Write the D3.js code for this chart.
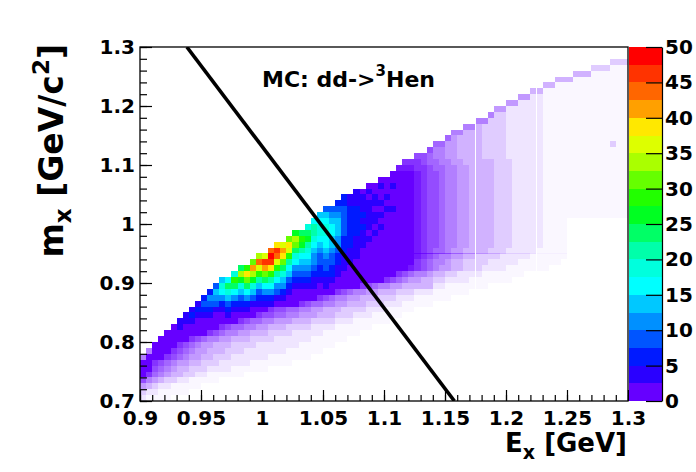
<!DOCTYPE html>
<html><head><meta charset="utf-8">
<script src="https://cdn.jsdelivr.net/npm/d3@7"></script>
<style>body{margin:0;background:#fff}svg{display:block}text{font-family:"DejaVu Sans",sans-serif;font-weight:bold;fill:#000}</style>
</head><body>
<svg id="chart" width="696" height="472"></svg>
<script>
// ---- data ----
const eRange = [0.9, 1.3];          // E_x axis range [GeV]
const mRange = [0.7, 1.3];          // m_x axis range [GeV/c^2]
const zRange = [0, 50];             // colour axis range (counts)
const binE = 0.005, binM = 0.01;    // cell size of the grid below
const xTicks = [0.9, 0.95, 1, 1.05, 1.1, 1.15, 1.2, 1.25, 1.3];
const xTickLabels = ["0.9", "0.95", "1", "1.05", "1.1", "1.15", "1.2", "1.25", "1.3"];
const yTicks = [0.7, 0.8, 0.9, 1, 1.1, 1.2, 1.3];
const yTickLabels = ["0.7", "0.8", "0.9", "1", "1.1", "1.2", "1.3"];
const zTicks = [0, 5, 10, 15, 20, 25, 30, 35, 40, 45, 50];
const zTickLabels = ["0", "5", "10", "15", "20", "25", "30", "35", "40", "45", "50"];
const cutE = [0.9384, 1.1577];      // black cut line, E_x end points
const cutM = [1.3, 0.7];            // black cut line, m_x end points
const titleMain = "MC: dd->", titleSup = "3", titleEnd = "Hen";
const paletteColors = ["#6600ff","#2a00ff","#001aff","#0055ff","#0090ff","#00c8ff","#00ffff","#00ffdd","#00ffaa","#00ff66",
                       "#00ff22","#22ff00","#66ff00","#aaff00","#ddff00","#ffe800","#ffa000","#ff6600","#ff3300","#ff0000"];
// histogram content, one row per m_x bin (top = 1.30), run-length coded: <code><count>
// '.' empty, '0' ~3% filled, '1'..'9' 10..90% filled, 'a'..'t' = content band 0..19 (width 2.5 counts)
const histRows = [
".80", ".80", ".77 23", ".74 23 03", ".71 33 06", ".68 33 09", ".66 32 012", ".64 32 014",
".62 42 12 014", ".60 42 14 014", ".58 42 16 014", ".57 51 22 16 014", ".55 52 23 16 014",
".53 52 31 24 16 014", ".51 52 33 24 16 014", ".50 61 41 34 24 16 014", ".48 62 42 34 24 16 011 21 02",
".47 71 52 42 34 24 16 014", ".45 72 61 52 42 34 24 16 014",
".43 83 71 62 52 42 35 23 15 014",
".42 93 82 71 62 52 42 34 23 15 014",
".41 a4 91 81 72 61 52 42 34 23 15 014",
".39 a6 91 81 72 61 52 42 34 23 15 014",
".37 a2 b1 a1 b1 a3 91 81 72 61 52 42 34 23 15 014",
".35 b1 a1 b1 a7 91 81 72 61 52 42 34 23 15 014",
".33 c1 b3 a1 b1 a1 b1 a4 91 81 72 61 52 42 34 23 15 014",
".32 c2 b6 a5 91 81 72 61 52 42 34 23 15 014",
".30 d4 c2 b2 a2 b2 a3 91 81 72 61 52 42 34 23 15 014",
".29 f2 e2 d1 c3 b3 a5 91 81 72 61 52 42 34 23 15 014",
".28 g3 f2 d1 c2 b3 a6 91 81 72 61 52 42 34 23 15 04 .10",
".27 h1 i1 h2 g1 f1 d1 c3 b1 a1 b1 a5 91 81 72 61 52 42 34 23 15 04 .10",
".25 k1 j2 i1 h2 g1 f1 d1 c2 b1 a1 b1 a6 91 81 72 61 52 42 34 23 15 04 .10",
".24 m1 n1 l1 k1 h1 g2 f1 e1 c2 b3 a7 91 81 72 61 52 42 34 23 15 04 .10",
".22 p1 o1 p1 m1 k1 i1 g1 f1 g1 f1 e1 c2 b2 a8 91 81 72 61 52 42 34 23 15 04 .10",
".21 r1 s1 q1 o1 j1 i1 h1 f1 e1 f1 e1 d1 c1 b2 a9 91 81 71 62 51 42 34 23 15 05 .10",
".19 n1 o1 t1 r1 p1 l1 h1 g2 e1 d1 e1 d1 c1 b3 a9 91 81 71 61 52 42 32 24 15 06 .10",
".18 m1 r1 s2 o1 m1 i1 g1 f2 e1 d3 c1 b2 a10 81 71 61 52 41 32 24 15 07 .11",
".16 j1 l1 q1 o1 q1 p1 l1 j1 g1 e3 d1 c1 d1 c1 b2 a10 91 81 71 61 51 42 32 23 14 07 .13",
".15 h1 n1 p1 n1 l1 m1 l1 i1 h1 f1 d3 c4 b1 a9 81 71 61 52 41 32 22 14 07 .17",
".13 f1 g1 l1 k1 m1 k1 i1 j1 i1 g1 f1 d1 c3 b4 a8 81 71 61 51 42 32 22 14 07 .19",
".12 d1 h1 j2 h1 j1 h1 f1 g2 e2 c1 b4 a1 b1 a5 81 71 61 52 42 32 33 12 07 .23",
".11 c1 f1 g1 h1 g1 f1 g1 f1 d1 e2 d1 c1 b1 a7 81 71 61 52 42 33 23 13 06 .26",
".10 c1 e3 f1 e1 d1 e1 d1 c3 b2 a5 81 71 61 52 42 33 23 13 06 .29",
".9 b1 d3 c1 d1 c3 b4 a4 81 71 62 52 42 33 23 13 05 .32",
".8 b1 c3 b2 c1 b3 a3 81 72 62 52 42 33 24 13 05 .35",
".7 b1 c1 b3 a2 b1 a4 81 72 62 52 43 33 23 13 05 .37",
".6 b3 a7 81 71 62 52 43 33 24 13 06 .39",
".5 a1 b1 a6 81 71 62 52 42 33 24 14 06 .42",
".4 a7 81 71 61 52 42 33 24 15 06 .44",
".3 a5 81 71 61 52 42 33 24 16 06 .46",
".2 a4 81 71 61 51 42 33 24 17 06 .48",
".1 51 a3 81 71 61 51 42 33 23 17 06 .50",
"51 a3 81 71 61 51 42 32 23 16 07 .52",
"a2 81 71 61 51 42 32 23 15 07 .55",
"a2 71 61 51 41 32 23 14 06 .59",
"a1 81 61 51 41 32 22 12 06 .63",
"71 51 41 31 22 12 05 .67",
"41 31 21 12 05 .70",
"21 12 05 .72",
"11 04 .75"
];

// ---- decode grid ----
function decode(ch) {
  if (ch === ".") return 0;
  if (ch === "0") return 0.03;
  if (ch >= "1" && ch <= "9") return (+ch) / 10;
  return 1.25 + 2.5 * (ch.charCodeAt(0) - 97);
}
const cells = [];
histRows.forEach((row, r) => {
  let c = 0;
  row.split(" ").forEach(tok => {
    const ch = tok[0], n = +tok.slice(1);
    const v = decode(ch);
    for (let k = 0; k < n; k++, c++) {
      if (v > 0 && c < 80) cells.push({ e: eRange[0] + c * binE, m: mRange[1] - (r + 1) * binM, v });
    }
  });
});

// ---- chart ----
const svg = d3.select("#chart");
svg.append("rect").attr("width", 696).attr("height", 472).attr("fill", "#fff");
const plot = { left: 140, right: 628, top: 47, bottom: 401 };
const x = d3.scaleLinear().domain(eRange).range([plot.left, plot.right]);
const y = d3.scaleLinear().domain(mRange).range([plot.bottom, plot.top]);
const zPos = d3.scaleLinear().domain(zRange).range([plot.bottom, plot.top]);
const zColor = d3.scaleQuantize().domain(zRange).range(paletteColors);

svg.append("defs").append("clipPath").attr("id", "clip")
  .append("rect").attr("x", plot.left).attr("y", plot.top)
  .attr("width", plot.right - plot.left).attr("height", plot.bottom - plot.top);

const g = svg.append("g").attr("clip-path", "url(#clip)");
g.selectAll("rect.cell").data(cells).join("rect").attr("class", "cell")
  .attr("x", d => Math.round(x(d.e)))
  .attr("width", d => Math.round(x(d.e + binE)) - Math.round(x(d.e)))
  .attr("y", d => Math.round(y(d.m + binM)))
  .attr("height", d => Math.round(y(d.m)) - Math.round(y(d.m + binM)))
  .attr("fill", d => d.v < 1 ? paletteColors[0] : zColor(d.v))
  .attr("fill-opacity", d => d.v < 1 ? d.v : 1)
  .attr("shape-rendering", "crispEdges");

// cut line
g.append("path")
  .attr("d", d3.line().x(d => x(d[0])).y(d => y(d[1]))(cutE.map((e, i) => [e, cutM[i]])))
  .attr("stroke", "#000").attr("stroke-width", 3.6).attr("fill", "none");

// frame
svg.append("rect").attr("x", plot.left).attr("y", plot.top)
  .attr("width", plot.right - plot.left).attr("height", plot.bottom - plot.top)
  .attr("fill", "none").attr("stroke", "#000").attr("stroke-width", 1.3);

// axes
const xMinor = svg.append("g").attr("transform", `translate(0,${plot.bottom})`)
  .call(d3.axisBottom(x).tickValues(x.ticks(40)).tickSize(-6).tickFormat(""));
const xAxis = svg.append("g").attr("transform", `translate(0,${plot.bottom})`)
  .call(d3.axisBottom(x).tickValues(xTicks).tickSize(-11).tickPadding(10)
    .tickFormat((d, i) => xTickLabels[i]));
const yMinor = svg.append("g").attr("transform", `translate(${plot.left},0)`)
  .call(d3.axisLeft(y).tickValues(y.ticks(30)).tickSize(-7).tickFormat(""));
const yAxis = svg.append("g").attr("transform", `translate(${plot.left},0)`)
  .call(d3.axisLeft(y).tickValues(yTicks).tickSize(-12).tickPadding(5)
    .tickFormat((d, i) => yTickLabels[i]));
[xMinor, xAxis, yMinor, yAxis].forEach(a => {
  a.select(".domain").remove();
  a.selectAll("line").attr("stroke", "#000").attr("stroke-width", 1.2);
});
svg.selectAll(".tick text").attr("font-size", 20).attr("font-family", "DejaVu Sans").attr("font-weight", "bold");

// palette
const pal = svg.append("g");
pal.selectAll("rect").data(paletteColors).join("rect")
  .attr("x", 629).attr("width", 33)
  .attr("y", (c, i) => zPos((i + 1) * 2.5))
  .attr("height", (c, i) => zPos(i * 2.5) - zPos((i + 1) * 2.5))
  .attr("fill", c => c).attr("shape-rendering", "crispEdges");
const zAxis = svg.append("g").attr("transform", "translate(662,0)")
  .call(d3.axisRight(zPos).tickValues(zTicks).tickSizeInner(-16).tickSizeOuter(0).tickPadding(3)
    .tickFormat((d, i) => zTickLabels[i]));
zAxis.selectAll("line, .domain").attr("stroke", "#000").attr("stroke-width", 1.2);
zAxis.selectAll("text").attr("font-size", 20).attr("font-family", "DejaVu Sans").attr("font-weight", "bold");

// title
const t = svg.append("text").attr("x", 262).attr("y", 87).attr("font-size", 22);
t.append("tspan").text(titleMain);
t.append("tspan").attr("font-size", 15).attr("dy", -11).text(titleSup);
t.append("tspan").attr("font-size", 22).attr("dy", 11).text(titleEnd);

// x title
const xt = svg.append("text").attr("x", 627).attr("y", 452).attr("text-anchor", "end").attr("font-size", 26);
xt.append("tspan").text("E");
xt.append("tspan").attr("font-size", 19).attr("dy", 7).text("x");
xt.append("tspan").attr("font-size", 26).attr("dy", -7).text(" [GeV]");

// y title
const yt = svg.append("text").attr("transform", "translate(63,44) rotate(-90)")
  .attr("text-anchor", "end").attr("font-size", 33);
yt.append("tspan").text("m");
yt.append("tspan").attr("font-size", 23).attr("dy", 8).text("x");
yt.append("tspan").attr("font-size", 33).attr("dy", -8).text(" [GeV/c");
yt.append("tspan").attr("font-size", 23).attr("dy", -14).text("2");
yt.append("tspan").attr("font-size", 33).attr("dy", 14).text("]");
</script>
</body></html>
